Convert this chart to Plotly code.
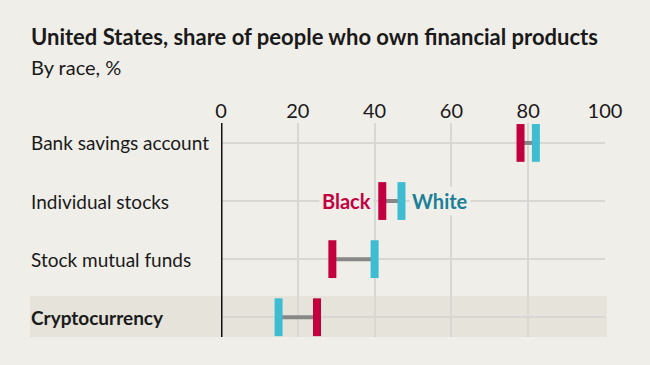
import plotly.graph_objects as go

categories = ["Bank savings account", "Individual stocks", "Stock mutual funds", "Cryptocurrency"]
black_vals = [78, 42, 29, 25]
white_vals = [82, 47, 40, 15]
x_ticks = [0, 20, 40, 60, 80, 100]

BG = "#f0eee9"
RED = "#c3003f"
CYAN = "#3ebcd2"
TEAL_TXT = "#1b7f98"
GRID = "#d8d7d3"
FONT = "Lato"

rows = list(range(len(categories)))

fig = go.Figure()

# connectors
for i in rows:
    fig.add_trace(go.Scatter(
        x=[black_vals[i], white_vals[i]], y=[i, i], mode="lines",
        line=dict(color="#878787", width=4), hoverinfo="skip", showlegend=False))

fig.add_trace(go.Scatter(
    x=black_vals, y=rows, mode="markers", name="Black",
    marker=dict(symbol="line-ns", size=27, line=dict(color=RED, width=8)),
    showlegend=False))
fig.add_trace(go.Scatter(
    x=white_vals, y=rows, mode="markers", name="White",
    marker=dict(symbol="line-ns", size=27, line=dict(color=CYAN, width=8)),
    showlegend=False))

W, H = 650, 365
L, R, T, B = 221, 45, 123, 28
pw = W - L - R
ph = H - T - B

def px(xp):
    return (xp - L) / pw

def py(yp):
    return 1 + (T - yp) / ph

# highlight band for crypto
fig.add_shape(type="rect", xref="paper", yref="y", x0=px(30), x1=px(607),
              y0=2.636, y1=3.34, fillcolor="#e5e3da", line_width=0, layer="below")
# zero axis line
fig.add_shape(type="line", xref="x", yref="paper", x0=0, x1=0, y0=0, y1=1,
              line=dict(color="#111111", width=3), layer="above")

annotations = []
annotations.append(dict(text="<b>United States, share of people who own financial products</b>",
                        xref="paper", yref="paper", x=px(29), y=py(36),
                        xanchor="left", yanchor="middle", showarrow=False,
                        font=dict(family=FONT, size=22, color="#1a1a1a")))
annotations.append(dict(text="By race, %",
                        xref="paper", yref="paper", x=px(29), y=py(67),
                        xanchor="left", yanchor="middle", showarrow=False,
                        font=dict(family=FONT, size=20, color="#1a1a1a")))
for i, c in enumerate(categories):
    txt = f"<b>{c}</b>" if c == "Cryptocurrency" else c
    annotations.append(dict(text=txt, xref="paper", yref="y", x=px(29), y=i,
                            xanchor="left", yanchor="middle", showarrow=False,
                            font=dict(family=FONT, size=19, color="#1a1a1a")))
annotations.append(dict(text="<b>Black</b>", xref="x", yref="y", x=black_vals[1], y=1,
                        xanchor="right", yanchor="middle", xshift=-8, showarrow=False,
                        bgcolor=BG, borderpad=2,
                        font=dict(family=FONT, size=20, color=RED)))
annotations.append(dict(text="<b>White</b>", xref="x", yref="y", x=white_vals[1], y=1,
                        xanchor="left", yanchor="middle", xshift=8, showarrow=False,
                        bgcolor=BG, borderpad=2,
                        font=dict(family=FONT, size=20, color=TEAL_TXT)))

fig.update_layout(
    width=W, height=H, margin=dict(l=L, r=R, t=T, b=B),
    paper_bgcolor=BG, plot_bgcolor="rgba(0,0,0,0)",
    annotations=annotations,
    xaxis=dict(range=[0, 100], side="top", tickvals=x_ticks, showgrid=True,
               gridcolor=GRID, gridwidth=2, zeroline=False, showline=False,
               ticks="", tickfont=dict(family=FONT, size=20, color="#1a1a1a"),
               fixedrange=True),
    yaxis=dict(range=[3.34, -0.343], tickvals=rows, showticklabels=False,
               showgrid=True, gridcolor=GRID, gridwidth=2, zeroline=False,
               showline=False, ticks="", fixedrange=True),
)

fig.write_html("out.html", config={"displayModeBar": False},
               post_script="document.body.style.margin='0';document.body.style.overflow='hidden';")
